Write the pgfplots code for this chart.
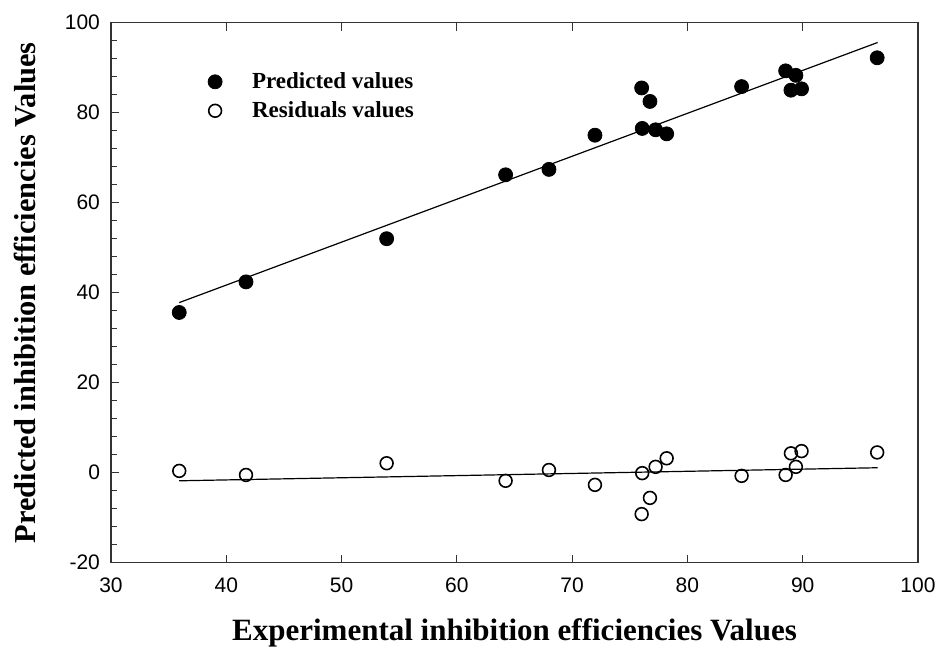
\documentclass[border=0pt]{standalone}
\usepackage{fontspec}
\setmainfont{Liberation Serif}
\setsansfont{Liberation Sans}
\usepackage{pgfplots}
\pgfplotsset{compat=1.18}
\begin{document}
\begin{tikzpicture}
\useasboundingbox (-55.5pt,-42.15pt) rectangle (413.5pt,281.35pt);
\begin{axis}[
    scale only axis, width=403.5pt, height=270pt,
    xmin=30, xmax=100, ymin=-20, ymax=100,
    xtick={30,40,...,100}, ytick={-20,0,...,100},
    minor y tick num=4,
    xtick pos=both, ytick pos=left,
    tick align=inside,
    major tick length=4pt, minor tick length=3pt,
    axis line style={line width=0.8pt, black!80},
    every tick/.style={black!80, line width=0.6pt},
    /pgf/number format/assume math mode=true,
    tick label style={font=\sffamily\fontsize{10.5}{12}\selectfont},
    xticklabel style={yshift=-4pt},
    yticklabel style={xshift=-2pt},
    xlabel={Experimental inhibition efficiencies Values},
    ylabel={Predicted inhibition efficiencies Values},
    xlabel style={font=\bfseries\fontsize{15.5}{18}\selectfont,
        at={(axis description cs:0.5,-0.130)}, anchor=center},
    ylabel style={font=\bfseries\fontsize{15.2}{18}\selectfont,
        at={(axis description cs:-0.1066,0.5)}, anchor=center},
    legend image code/.code={\draw[#1] plot coordinates {(0pt,0pt)};},
    legend cell align=left,
    legend style={draw=none, fill=none, inner sep=0pt, row sep=3pt,
        at={(axis cs:38.39,89.5)}, anchor=north west,
        font=\bfseries\fontsize{11.5}{13}\selectfont,
        nodes={inner sep=1pt},
        /tikz/every odd column/.append style={column sep=14pt}},
]
% fitted lines
\addplot[black, line width=0.6pt, forget plot] coordinates {(35.92,37.8) (96.5,95.6)};
\addplot[black, line width=0.6pt, forget plot] coordinates {(35.92,-1.8) (96.5,1.1)};

\addplot[only marks, mark=*, mark size=3.5pt, black] coordinates {
    (35.92,35.6) (41.71,42.4) (53.91,52.0) (64.23,66.2) (67.99,67.4)
    (71.98,75.0) (76.03,85.5) (76.75,82.5) (76.08,76.5) (77.24,76.2)
    (78.20,75.3) (84.70,85.8) (88.52,89.3) (89.41,88.3) (88.98,85.0)
    (89.90,85.3) (96.46,92.2)
};
\addlegendentry{Predicted values}

\addplot[only marks, mark=o, mark size=3.2pt, black,
    mark options={line width=0.8pt, fill=white}] coordinates {
    (35.92,0.4) (41.71,-0.5) (53.91,2.1) (64.23,-1.8) (67.99,0.6)
    (71.98,-2.7) (76.08,-0.1) (76.03,-9.2) (76.75,-5.6) (77.24,1.3)
    (78.20,3.2) (84.70,-0.7) (88.52,-0.5) (88.98,4.3) (89.41,1.3)
    (89.90,4.8) (96.46,4.5)
};
\addlegendentry{Residuals values}
\end{axis}
\end{tikzpicture}
\end{document}
